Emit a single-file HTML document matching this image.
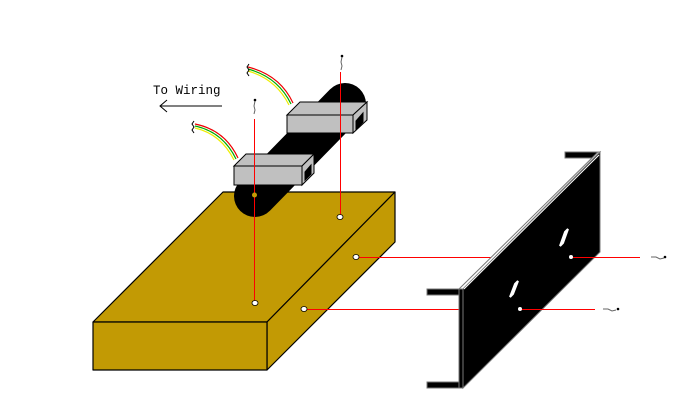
<!DOCTYPE html>
<html><head><style>html,body{margin:0;padding:0;background:#fff}svg{display:block}</style></head>
<body>
<svg width="683" height="401" viewBox="0 0 683 401" xmlns="http://www.w3.org/2000/svg">
<!-- base box -->
<g stroke="#000" stroke-width="1.2" fill="#C29A04" stroke-linejoin="round">
<polygon points="223,192 395,192 267,322 93,322"/>
<polygon points="267,322 395,192 395,242 267,370"/>
<rect x="93" y="322" width="174" height="48"/>
</g>
<!-- cylinder -->
<line x1="255" y1="196" x2="345" y2="104" stroke="#000" stroke-width="42" stroke-linecap="round"/>
<!-- boxes -->
<g stroke="#000" stroke-width="1" fill="#c0c0c0">
<polygon points="234,166 246,154 314,154 302,166"/>
<polygon points="302,166 314,154 314,173 302,185"/>
<rect x="234" y="166" width="68" height="19"/>
<polygon points="305,172 311,165 311,174 305,180" fill="#000"/>
<polygon points="287,115 300,102 367,102 353,115"/>
<polygon points="353,115 367,102 367,120 353,133"/>
<rect x="287" y="115" width="66" height="18"/>
<polygon points="356,121 363,113 363,122 356,130" fill="#000"/>
</g>
<!-- wires -->
<g fill="none" stroke-width="1.2">
<path d="M195,124 Q225,130 238,158" stroke="#e00"/>
<path d="M195,126 Q223,132 236,159" stroke="#0a0"/>
<path d="M195,128 Q221,134 234,160" stroke="#ee0"/>
<path d="M248,67 Q280,75 293,103" stroke="#e00"/>
<path d="M248,69 Q278,77 291,104" stroke="#0a0"/>
<path d="M248,71 Q276,79 289,105" stroke="#ee0"/>
</g>
<path d="M194,121 l-2,3 l2,3 l-2,3 l2,3" stroke="#000" fill="none"/>
<path d="M249,64 l-2,3 l2,3 l-2,3 l2,3" stroke="#000" fill="none"/>
<!-- red lines -->
<g stroke="#f00" stroke-width="1" shape-rendering="crispEdges">
<line x1="254.5" y1="119" x2="254.5" y2="305"/>
<line x1="340.5" y1="72" x2="340.5" y2="217"/>
<line x1="356" y1="257.5" x2="640" y2="257.5"/>
<line x1="305" y1="309.5" x2="595" y2="309.5"/>
</g>
<circle cx="254.5" cy="195" r="2.5" fill="#C29A04"/>
<!-- screws -->
<g fill="#fff" stroke="#000" stroke-width="0.8">
<ellipse cx="340" cy="217" rx="3" ry="2.5"/>
<ellipse cx="255" cy="303" rx="3" ry="2.5"/>
<ellipse cx="356" cy="257" rx="3" ry="2.5"/>
<ellipse cx="304" cy="309" rx="3" ry="2.5"/>
</g>
<g stroke="#666" fill="none" stroke-width="1">
<path d="M255,101 l-1,5 l1,4 l-1,4"/><path d="M342,57 l-1,5 l1,4 l-1,4"/>
<path d="M651,257 l5,0 l4,2 l4,-1"/><path d="M603,309 l5,0 l4,2 l4,-1"/>
</g>
<g fill="#000"><circle cx="255" cy="100" r="1.3"/><circle cx="342" cy="56" r="1.3"/><circle cx="665" cy="257" r="1.3"/><circle cx="618" cy="309" r="1.3"/></g>
<!-- bracket panel -->
<g stroke="#777" stroke-width="1">
<rect x="565" y="152" width="34" height="6" fill="#000"/>
<rect x="427" y="289" width="33" height="6" fill="#000"/>
<rect x="427" y="382" width="36" height="6" fill="#000"/>
<polygon points="459,289 463,289 463,388 459,388" fill="#000"/>
<polygon points="459,289 598,152 600,152 463,289" fill="#fff"/>
<polygon points="463,289 600,152 600,252 463,388" fill="#000"/>
</g>
<line x1="464" y1="289" x2="599" y2="155" stroke="#fff" stroke-width="1"/>
<polygon points="565,232 568,229 563,243 560,246" fill="#fff" stroke="#fff" stroke-width="2"/>
<polygon points="515,284 518,281 513,294 510,297" fill="#fff" stroke="#fff" stroke-width="2"/>
<g stroke="#f00" shape-rendering="crispEdges"><line x1="571" y1="257.5" x2="640" y2="257.5"/><line x1="520" y1="309.5" x2="595" y2="309.5"/></g>
<ellipse cx="571" cy="257" rx="2" ry="2" fill="#fff"/>
<ellipse cx="520" cy="309" rx="2" ry="2" fill="#fff"/>
<!-- label -->
<text x="153" y="94" font-family="Liberation Mono, monospace" font-size="12.5">To Wiring</text>
<path d="M222,106 L160,106 M167,100 L160,106 L167,112" stroke="#000" fill="none"/>
</svg>
</body></html>
